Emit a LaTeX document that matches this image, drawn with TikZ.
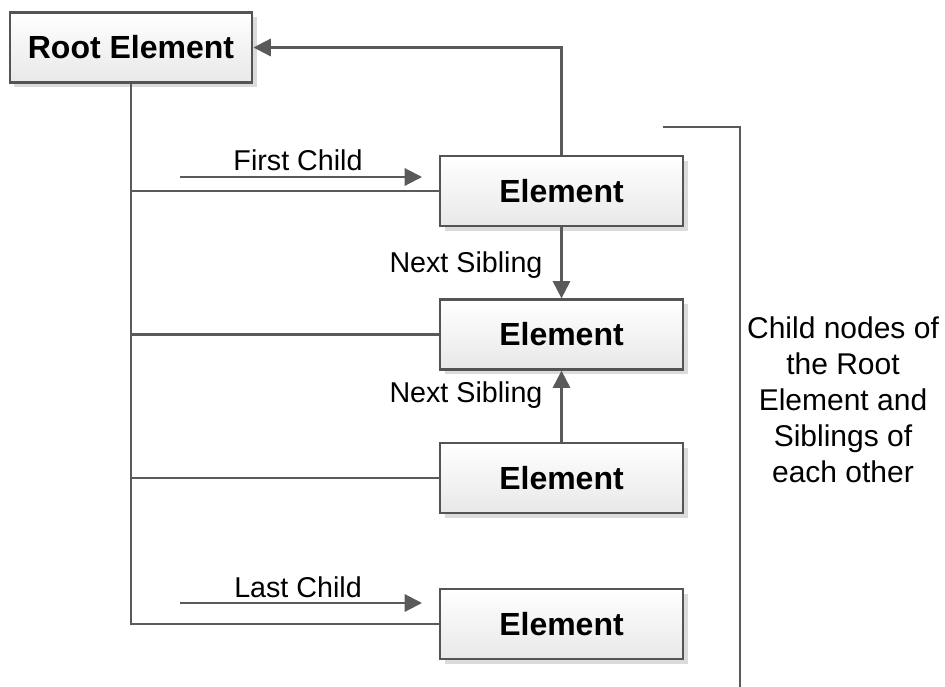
\documentclass[tikz,border=0pt]{standalone}
\usepackage{fontspec}
\setmainfont{Liberation Sans}
\usetikzlibrary{arrows.meta,shadows}
\definecolor{linegray}{HTML}{5A5A5A}
\definecolor{boxedge}{HTML}{545454}
\tikzset{
  elembox/.style={draw=boxedge, line width=1.7pt, top color=white, bottom color=black!9,
    minimum width=182pt, minimum height=52.5pt, inner sep=0pt,
    font=\fontsize{24}{28}\selectfont\bfseries,
    drop shadow={shadow xshift=3.5pt, shadow yshift=-3.5pt, fill=black!14, opacity=1}},
  conn/.style={draw=linegray, line width=1.6pt},
  arr/.style={conn, -{Triangle[length=13pt,width=13pt]}},
  lbl/.style={font=\fontsize{21.5}{27}\selectfont, inner sep=0pt}
}
\begin{document}
\begin{tikzpicture}[x=0.75pt,y=-0.75pt]
  \useasboundingbox (0,0) rectangle (945,686);

  % boxes
  \node[elembox] (root) at (131,47.5) {Root Element};
  \node[elembox] (e1) at (561.5,191) {Element};
  \node[elembox] (e2) at (561.5,334.5) {Element};
  \node[elembox] (e3) at (561.5,478) {Element};
  \node[elembox] (e4) at (561.5,624) {Element};

  % trunk from the root to each child
  \draw[conn] (root.south) |- (e1.west);
  \draw[conn] (root.south) |- (e2.west);
  \draw[conn] (root.south) |- (e3.west);
  \draw[conn] (root.south) |- (e4.west);

  % first / last child pointers
  \coordinate (fcA) at (180,177);
  \coordinate (fcB) at (422,177);
  \coordinate (lcA) at (180,603);
  \coordinate (lcB) at (422,603);
  \draw[arr] (fcA) -- (fcB);
  \draw[arr] (lcA) -- (lcB);
  \node[lbl] (fcl) at (298,160) {First Child};
  \node[lbl] (lcl) at (298,587) {Last Child};

  % parent pointer
  \draw[arr] (e1.north) |- (root.east);

  % sibling pointers
  \draw[arr] (e1.south) -- (e2.north);
  \draw[arr] (e3.north) -- (e2.south);
  \node[lbl] (ns1) at (466,265) {Next Sibling};
  \node[lbl] (ns2) at (466,395) {Next Sibling};

  % bracket and its note
  \coordinate (brA) at (663,127);
  \coordinate (brB) at (740,127);
  \coordinate (brC) at (740,690);
  \draw[conn] (brA) -- (brB) -- (brC);
  \node[lbl, align=center, font=\fontsize{22.5}{27}\selectfont] (note) at (843,400) {Child nodes of\\the Root\\Element and\\Siblings of\\each other};
\end{tikzpicture}
\end{document}
